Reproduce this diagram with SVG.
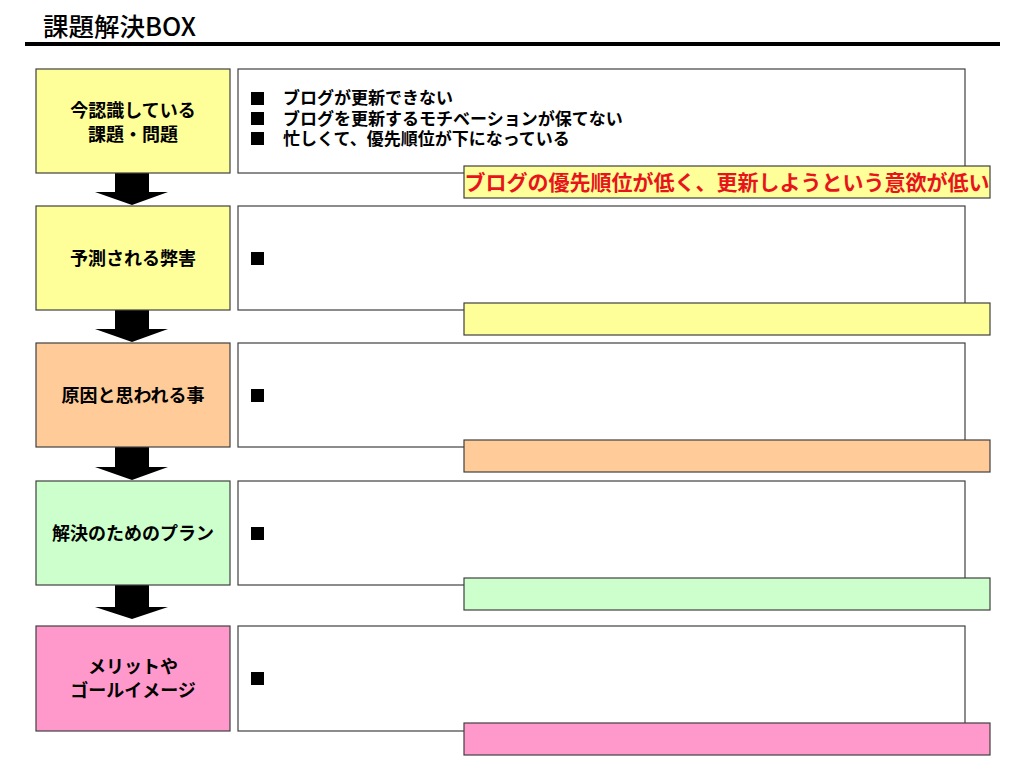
<svg xmlns="http://www.w3.org/2000/svg" width="1024" height="766" viewBox="0 0 1024 766">
<style>
.t{font-family:"Noto Sans CJK JP","Noto Sans",sans-serif;font-weight:bold;fill:#000}
.lab{font-size:18px;text-anchor:middle}
.bul{font-size:17px}
.sq{fill:#000}
.box{stroke:#404040;stroke-width:1.2}
.y{fill:#FFFF99}.o{fill:#FFCC99}.g{fill:#CCFFCC}.p{fill:#FF99CC}.w{fill:#FFFFFF}
.arr{fill:#000}
</style>
<rect width="1024" height="766" fill="#fff"/>
<g id="title">
<text x="43" y="36" font-size="25.5" style="font-family:'Noto Sans CJK JP','Noto Sans',sans-serif;font-weight:500;fill:#000">課題解決BOX</text>
<rect x="25" y="42" width="975" height="4" fill="#000"/>
</g>
<g id="connectors">
<path class="arr" d="M115,173 H149 V192 H168 L132,205 L95,192 H115 Z"/>
<path class="arr" d="M115,310 H149 V329 H168 L132,342 L95,329 H115 Z"/>
<path class="arr" d="M115,447 H149 V467 H168 L132,480 L95,467 H115 Z"/>
<path class="arr" d="M115,585 H149 V607 H168 L132,619 L95,607 H115 Z"/>
</g>
<g id="row1">
<rect class="box y" x="36" y="69" width="194" height="104"/>
<text class="t lab" x="133" y="117">今認識している</text>
<text class="t lab" x="133" y="141">課題・問題</text>
<rect class="box w" x="238" y="69" width="727" height="104"/>
<rect class="sq" x="251" y="92" width="13" height="13"/>
<rect class="sq" x="251" y="112" width="13" height="13"/>
<rect class="sq" x="251" y="132" width="13" height="13"/>
<text class="t bul" x="283" y="104"><tspan x="283" y="104">ブログが更新できない</tspan><tspan x="283" y="124.5">ブログを更新するモチベーションが保てない</tspan><tspan x="283" y="145">忙しくて、優先順位が下になっている</tspan></text>
<rect class="box y" x="464" y="166" width="526" height="32"/>
<text class="t" x="727" y="190" font-size="21" text-anchor="middle" style="fill:#E8141C">ブログの優先順位が低く、更新しようという意欲が低い</text>
</g>
<g id="row2">
<rect class="box y" x="36" y="206" width="194" height="104"/>
<text class="t lab" x="133" y="265">予測される弊害</text>
<rect class="box w" x="238" y="206" width="727" height="104"/>
<rect class="sq" x="251" y="252" width="13" height="13"/>
<rect class="box y" x="464" y="303" width="526" height="32"/>
</g>
<g id="row3">
<rect class="box o" x="36" y="343" width="194" height="104"/>
<text class="t lab" x="133" y="402">原因と思われる事</text>
<rect class="box w" x="238" y="343" width="727" height="104"/>
<rect class="sq" x="251" y="389" width="13" height="13"/>
<rect class="box o" x="464" y="440" width="526" height="32"/>
</g>
<g id="row4">
<rect class="box g" x="36" y="481" width="194" height="104"/>
<text class="t lab" x="133" y="540">解決のためのプラン</text>
<rect class="box w" x="238" y="481" width="727" height="104"/>
<rect class="sq" x="251" y="527" width="13" height="13"/>
<rect class="box g" x="464" y="578" width="526" height="32"/>
</g>
<g id="row5">
<rect class="box p" x="36" y="626" width="194" height="105"/>
<text class="t lab" x="133" y="673">メリットや</text>
<text class="t lab" x="133" y="697">ゴールイメージ</text>
<rect class="box w" x="238" y="626" width="727" height="105"/>
<rect class="sq" x="251" y="672" width="13" height="13"/>
<rect class="box p" x="464" y="723" width="526" height="32"/>
</g>
</svg>
